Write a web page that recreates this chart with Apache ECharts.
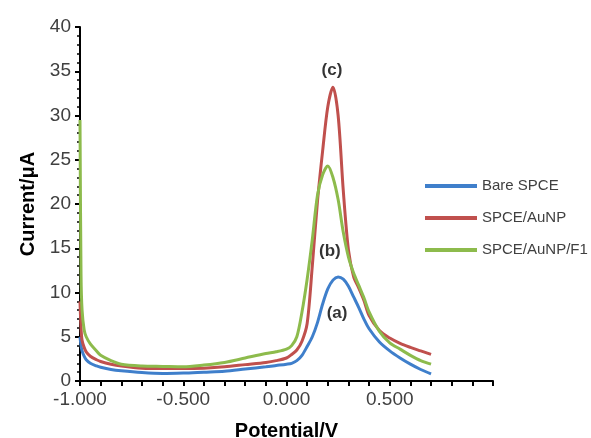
<!DOCTYPE html>
<html>
<head>
<meta charset="utf-8">
<script src="https://cdn.jsdelivr.net/npm/echarts@6/dist/echarts.min.js"></script>
<style>
  html, body { margin: 0; padding: 0; background: #fff; }
  #chart { width: 591px; height: 438px; }
</style>
</head>
<body>
<div id="chart"></div>
<script>
// potential (V)
var potential = [-1.0, -0.995, -0.99, -0.98, -0.97, -0.95, -0.92, -0.9, -0.85, -0.8, -0.7, -0.6, -0.5, -0.4, -0.3, -0.2, -0.1, -0.05,
    0.0, 0.025, 0.05, 0.075, 0.1, 0.125, 0.15, 0.175, 0.2, 0.225, 0.25, 0.275, 0.3, 0.325, 0.35, 0.375, 0.4, 0.45, 0.5, 0.55, 0.6, 0.65, 0.7];
// current (uA)
var bareSpce = [5.0, 4.0, 3.4, 2.8, 2.4, 2.0, 1.7, 1.55, 1.3, 1.15, 0.95, 0.85, 0.9, 1.0, 1.1, 1.35, 1.6, 1.75,
    1.9, 2.0, 2.3, 2.9, 3.9, 5.0, 6.6, 8.7, 10.4, 11.4, 11.75, 11.5, 10.7, 9.5, 8.3, 7.0, 5.9, 4.4, 3.4, 2.6, 1.9, 1.3, 0.8];
var spceAunp = [9.0, 6.0, 4.6, 3.8, 3.3, 2.8, 2.4, 2.2, 1.9, 1.7, 1.45, 1.4, 1.4, 1.45, 1.6, 1.85, 2.1, 2.3,
    2.6, 3.0, 3.5, 4.5, 6.5, 13.0, 20.3, 26.0, 31.0, 33.2, 30.0, 21.5, 14.8, 11.8, 10.5, 9.1, 7.4, 5.7, 4.85, 4.25, 3.8, 3.4, 3.0];
var spceAunpF1 = [29.5, 12.0, 8.0, 5.8, 5.0, 4.2, 3.4, 2.9, 2.3, 1.9, 1.7, 1.65, 1.6, 1.8, 2.1, 2.6, 3.1, 3.3,
    3.6, 4.0, 5.0, 7.8, 11.5, 16.0, 21.0, 23.3, 24.3, 23.0, 20.5, 16.8, 14.0, 12.2, 10.8, 9.4, 7.8, 5.6, 4.3, 3.6, 2.9, 2.3, 1.9];
var seriesNames = ['Bare SPCE', 'SPCE/AuNP', 'SPCE/AuNP/F1'];
var colors = ['#3f7fcb', '#c0504d', '#8dbb4c'];
// peak labels [x, y, text]
var peakLabels = [[0.22, 35.1, '(c)'], [0.21, 14.6, '(b)'], [0.245, 7.7, '(a)']];

function pairs(ys) {
    var out = [];
    for (var i = 0; i < potential.length; i++) out.push([potential[i], ys[i]]);
    return out;
}

var font = '"Liberation Sans", Arial, sans-serif';
var chart = echarts.init(document.getElementById('chart'));

var lineSeries = [bareSpce, spceAunp, spceAunpF1].map(function (ys, i) {
    return {
        name: seriesNames[i],
        type: 'line',
        data: pairs(ys),
        showSymbol: false,
        smooth: 0.3,
        lineStyle: { width: 3, color: colors[i] },
        itemStyle: { color: colors[i] },
        z: 3 + i
    };
});

lineSeries.push({
    name: 'labels',
    type: 'scatter',
    data: peakLabels,
    symbolSize: 0,
    silent: true,
    label: {
        show: true,
        position: 'inside',
        formatter: function (p) { return p.data[2]; },
        fontFamily: font,
        fontSize: 17,
        fontWeight: 'bold',
        color: '#000'
    },
    z: 10
});

var option = {
    backgroundColor: '#fff',
    animation: false,
    grid: { left: 80, top: 27, right: 98, bottom: 57, outerBoundsMode: 'none' },
    legend: {
        data: seriesNames,
        orient: 'vertical',
        left: 420,
        top: 172,
        icon: 'rect',
        itemWidth: 52,
        itemHeight: 4,
        itemGap: 14,
        textStyle: { fontFamily: font, fontSize: 15, color: '#404040', lineHeight: 18 }
    },
    xAxis: {
        type: 'value',
        min: -1,
        max: 1,
        interval: 0.1,
        name: 'Potential/V',
        nameLocation: 'middle',
        nameGap: 40,
        nameTextStyle: { fontFamily: font, fontSize: 20, fontWeight: 'bold', color: '#000' },
        axisLine: { show: true, onZero: false, lineStyle: { color: '#000', width: 2 } },
        axisTick: { show: true, length: 5, lineStyle: { color: '#000', width: 2 } },
        splitLine: { show: false },
        axisLabel: {
            fontFamily: font, fontSize: 19, color: '#404040', margin: 9,
            formatter: function (v) {
                var r = Math.round(v * 10);
                if (r % 5 !== 0 || r >= 10) return '';
                return (r / 10).toFixed(3);
            }
        }
    },
    yAxis: {
        type: 'value',
        min: 0,
        max: 40,
        interval: 5,
        name: 'Current/μA',
        nameLocation: 'middle',
        nameGap: 42,
        nameTextStyle: { fontFamily: font, fontSize: 20, fontWeight: 'bold', color: '#000' },
        axisLine: { show: true, onZero: false, lineStyle: { color: '#000', width: 2 } },
        axisTick: { show: true, length: 5, lineStyle: { color: '#000', width: 2 } },
        minorTick: { show: true, splitNumber: 5, length: 3, lineStyle: { color: '#000', width: 1.5 } },
        splitLine: { show: false },
        axisLabel: { fontFamily: font, fontSize: 19, color: '#404040', margin: 9 }
    },
    series: lineSeries
};

chart.setOption(option);
</script>
</body>
</html>
